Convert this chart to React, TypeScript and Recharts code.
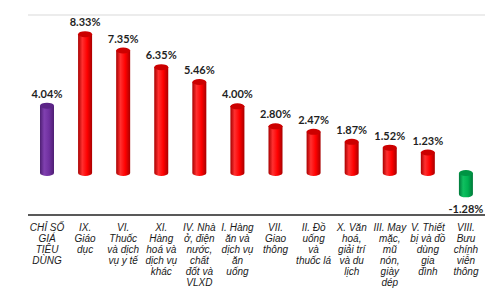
import { Bar, BarChart, CartesianGrid, Cell, LabelList, XAxis, YAxis } from 'recharts';

const categories = [
  'CHỈ SỐ\nGIÁ\nTIÊU\nDÙNG',
  'IX.\nGiáo\ndục',
  'VI.\nThuốc\nvà dịch\nvụ y tế',
  'XI.\nHàng\nhoá và\ndịch vụ\nkhác',
  'IV. Nhà\nở, điện\nnước,\nchất\nđốt và\nVLXD',
  'I. Hàng\năn và\ndịch vụ\năn\nuống',
  'VII.\nGiao\nthông',
  'II. Đồ\nuống\nvà\nthuốc lá',
  'X. Văn\nhoá,\ngiải trí\nvà du\nlịch',
  'III. May\nmặc,\nmũ\nnón,\ngiày\ndép',
  'V. Thiết\nbị và đồ\ndùng\ngia\nđình',
  'VIII.\nBưu\nchính\nviễn\nthông'
];
const values = [4.04, 8.33, 7.35, 6.35, 5.46, 4.0, 2.8, 2.47, 1.87, 1.52, 1.23, -1.28];
const kinds = ['purple', 'red', 'red', 'red', 'red', 'red', 'red', 'red', 'red', 'red', 'red', 'green'];
const yTicks = [-3, -2, -1, 0, 1, 2, 3, 4, 5, 6, 7, 8, 9];

const tones: Record<string, { edge: string; mid: string; light: string; cap: string }> = {
  red: { edge: '#a80000', mid: '#ff0000', light: '#ff3030', cap: '#cc0000' },
  purple: { edge: '#4e1f73', mid: '#7030a0', light: '#8040b0', cap: '#5c2587' },
  green: { edge: '#00783a', mid: '#00b050', light: '#10c060', cap: '#009444' }
};

const data = categories.map((name, i) => ({ name, value: values[i], kind: kinds[i] }));

// the source is a 3D chart, bars sit a bit lower than the back-wall grid
const DEPTH = 8;
const RY = 3;

function Cylinder(props: any) {
  const { x, y, width, height, payload } = props;
  const kind = payload.kind;
  const top = Math.min(y, y + height) + DEPTH;
  const h = Math.abs(height);
  const rx = width / 2;
  return (
    <g>
      <path
        d={`M${x},${top} L${x},${top + h} A${rx},${RY} 0 0 0 ${x + width},${top + h} L${x + width},${top} Z`}
        fill={`url(#cyl-${kind})`}
      />
      <ellipse cx={x + rx} cy={top} rx={rx} ry={RY} fill={tones[kind].cap} />
    </g>
  );
}

function ValueLabel(props: any) {
  const { x, y, width, height, value } = props;
  const cx = x + width / 2;
  const ty = value >= 0 ? Math.min(y, y + height) : Math.max(y, y + height) + DEPTH + RY + 16;
  return (
    <text x={cx} y={ty} textAnchor='middle' fontFamily='Lato, sans-serif' fontWeight={700} fontSize={11} fill='#1f1f1f'>
      {value.toFixed(2)}%
    </text>
  );
}

function CategoryTick({ x, y, payload }: any) {
  const lines = String(payload.value).split('\n');
  return (
    <text x={x} y={y} textAnchor='middle' fontFamily='Liberation Sans, Arial, sans-serif' fontStyle='italic' fontSize={10} fill='#1a1a1a'>
      {lines.map((line, i) => (
        <tspan key={i} x={x} dy={i === 0 ? 16 : 10.9}>
          {line}
        </tspan>
      ))}
    </text>
  );
}

export default function App() {
  return (
    <div style={{ position: 'absolute', left: 0, top: 0, background: '#fff' }}>
      <BarChart width={497} height={294} data={data} margin={{ top: 15, right: 12, left: 28, bottom: 9 }}>
        <defs>
          {Object.keys(tones).map((k) => (
            <linearGradient key={k} id={`cyl-${k}`} x1='0' y1='0' x2='1' y2='0'>
              <stop offset='0%' stopColor={tones[k].edge} />
              <stop offset='30%' stopColor={tones[k].light} />
              <stop offset='65%' stopColor={tones[k].mid} />
              <stop offset='100%' stopColor={tones[k].edge} />
            </linearGradient>
          ))}
        </defs>
        <CartesianGrid vertical={false} stroke='#d9d9d9' />
        <XAxis
          dataKey='name'
          interval={0}
          height={70}
          tickLine={false}
          tickSize={0}
          tickMargin={0}
          axisLine={{ stroke: '#595959', strokeWidth: 2 }}
          tick={<CategoryTick />}
        />
        <YAxis width={0} domain={[-3, 9]} ticks={yTicks} tick={false} tickLine={false} axisLine={{ stroke: '#bfbfbf' }} allowDataOverflow />
        <Bar dataKey='value' barSize={14} isAnimationActive={false} shape={<Cylinder />}>
          {data.map((d, i) => (
            <Cell key={i} fill={tones[d.kind].mid} />
          ))}
          <LabelList dataKey='value' content={<ValueLabel />} />
        </Bar>
      </BarChart>
    </div>
  );
}
